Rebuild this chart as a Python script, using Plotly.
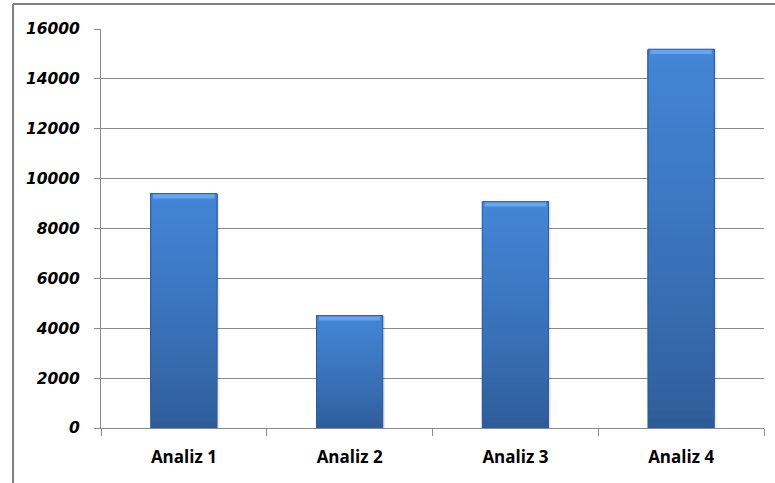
import plotly.graph_objects as go

# Chart data
categories = ["Analiz 1", "Analiz 2", "Analiz 3", "Analiz 4"]
values = [9400, 4500, 9070, 15190]
y_ticks = [0, 2000, 4000, 6000, 8000, 10000, 12000, 14000, 16000]
y_tick_labels = ["0", "2000", "4000", "6000", "8000", "10000", "12000", "14000", "16000"]

BAR_WIDTH = 0.4
N_SLICES = 40
BOTTOM_RGB = (46, 92, 152)
TOP_RGB = (68, 134, 216)
BEVEL_COLOR = "#68a5ec"
EDGE_COLOR = "#2d5c96"
BEVEL_FRAC = 0.012  # bevel height as fraction of axis range

fig = go.Figure()


def lerp(c0, c1, t):
    return "rgb(%d,%d,%d)" % tuple(round(a + (b - a) * t) for a, b in zip(c0, c1))


# soft drop shadow
fig.add_trace(go.Bar(
    x=categories, y=values, width=BAR_WIDTH + 0.012, offset=-BAR_WIDTH / 2 + 0.002,
    marker=dict(color="rgba(0,0,0,0.09)", line=dict(width=0)),
    hoverinfo="skip", showlegend=False,
))

# vertical gradient body: each layer runs from its start height to the bar top
for k in range(N_SLICES):
    t = k / N_SLICES
    fig.add_trace(go.Bar(
        x=categories,
        base=[v * t for v in values],
        y=[v * (1 - t) for v in values],
        width=BAR_WIDTH,
        marker=dict(color=lerp(BOTTOM_RGB, TOP_RGB, t ** 0.8), line=dict(width=0)),
        hoverinfo="skip", showlegend=False,
    ))

# light bevel band along each bar top
bevel = 16000 * BEVEL_FRAC
fig.add_trace(go.Bar(
    x=categories,
    base=[v - bevel for v in values],
    y=[bevel for v in values],
    width=BAR_WIDTH - 0.03,
    marker=dict(color=BEVEL_COLOR, line=dict(width=0)),
    hoverinfo="skip", showlegend=False,
))

# bar outline
fig.add_trace(go.Bar(
    x=categories, y=values, width=BAR_WIDTH,
    marker=dict(color="rgba(0,0,0,0)", line=dict(color=EDGE_COLOR, width=1)),
    hovertemplate="%{x}: %{y}<extra></extra>", showlegend=False,
))

AXIS_GRAY = "#8a8a8a"

fig.update_layout(
    width=775, height=483,
    margin=dict(l=101, r=11, t=29, b=55),
    paper_bgcolor="white", plot_bgcolor="white",
    barmode="overlay",
    bargap=0.6,
    xaxis=dict(
        showgrid=False,
        showline=True, linecolor=AXIS_GRAY, linewidth=1,
        ticks="outside", tickson="boundaries", ticklen=7, tickcolor=AXIS_GRAY,
        tickfont=dict(family="Open Sans", size=17, color="black", weight="bold"),
        ticklabelstandoff=14,
    ),
    yaxis=dict(
        range=[0, 16000], tickvals=y_ticks, ticktext=y_tick_labels,
        showgrid=True, gridcolor=AXIS_GRAY, gridwidth=1,
        showline=True, linecolor=AXIS_GRAY, linewidth=1,
        ticks="outside", ticklen=6, tickcolor=AXIS_GRAY,
        tickfont=dict(family="DejaVu Sans", size=15.5, color="black", weight="bold", style="italic"),
        ticklabelstandoff=11,
        zeroline=False,
    ),
)

# chart frame along the left and top edges
frame = dict(color="#7f7f7f", width=2)
fig.add_shape(type="line", xref="paper", yref="paper", x0=-0.1327, x1=-0.1327, y0=1.0627, y1=-0.3, line=frame)
fig.add_shape(type="line", xref="paper", yref="paper", x0=-0.1327, x1=1.2, y0=1.0627, y1=1.0627, line=frame)

fig.write_html("out.html")
